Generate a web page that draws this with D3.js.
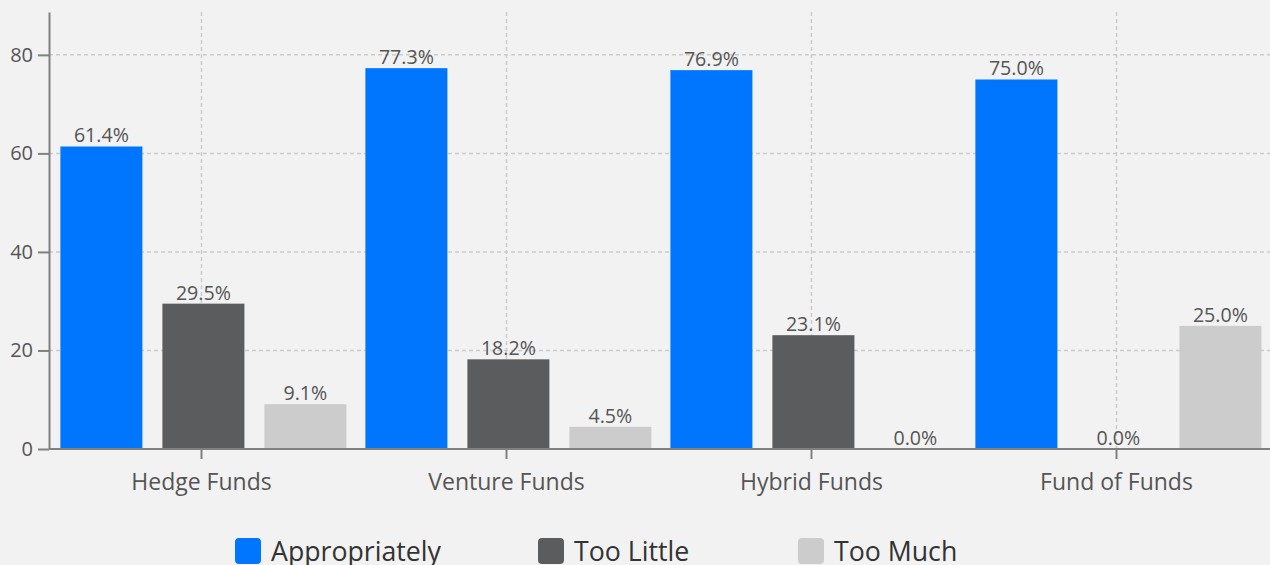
<!DOCTYPE html>
<html>
<head>
<meta charset="utf-8">
<script src="https://cdn.jsdelivr.net/npm/d3@7"></script>
<style>
  html, body { margin: 0; padding: 0; background: #f2f2f2; }
  svg { display: block; font-family: "Open Sans", sans-serif; }
</style>
</head>
<body>
<div id="container"></div>
<script>
var categories = ["Hedge Funds", "Venture Funds", "Hybrid Funds", "Fund of Funds"];
var seriesNames = ["Appropriately", "Too Little", "Too Much"];
var appropriately = [61.4, 77.3, 76.9, 75.0];
var tooLittle = [29.5, 18.2, 23.1, 0.0];
var tooMuch = [9.1, 4.5, 0.0, 25.0];
var yTicks = [0, 20, 40, 60, 80];
var colors = ["#0076ff", "#5b5c5e", "#cccccc"];

var width = 1270;
var height = 565;
var plotLeft = 49;
var plotRight = 1269;
var plotTop = 12;
var plotBottom = 449;

var seriesValues = [appropriately, tooLittle, tooMuch];
var rows = categories.map(function(c, i) {
  return { cat: c, vals: seriesNames.map(function(s, j) { return { key: s, idx: j, v: seriesValues[j][i] }; }) };
});

var x0 = d3.scaleBand().domain(categories).range([plotLeft, plotRight]).padding(0);
var x1 = d3.scaleBand().domain(seriesNames).range([0, x0.bandwidth()])
           .paddingInner(0.196).paddingOuter(0.093).align(0.6);
var y = d3.scaleLinear().domain([0, 88.7]).range([plotBottom, plotTop]);

var svg = d3.select("#container").append("svg")
            .attr("width", width)
            .attr("height", height);

// grid
svg.append("g").selectAll("line")
   .data(yTicks.filter(function(d) { return d > 0; }))
   .enter().append("line")
   .attr("x1", plotLeft).attr("x2", width)
   .attr("y1", function(d) { return y(d); })
   .attr("y2", function(d) { return y(d); })
   .attr("stroke", "#cccccc").attr("stroke-width", 1.5)
   .attr("stroke-dasharray", "4,3");

svg.append("g").selectAll("line")
   .data(categories)
   .enter().append("line")
   .attr("x1", function(d) { return x0(d) + x0.bandwidth() / 2; })
   .attr("x2", function(d) { return x0(d) + x0.bandwidth() / 2; })
   .attr("y1", plotTop).attr("y2", plotBottom)
   .attr("stroke", "#cccccc").attr("stroke-width", 1.5)
   .attr("stroke-dasharray", "4,3");

// bars
var groups = svg.append("g").selectAll("g")
   .data(rows)
   .enter().append("g")
   .attr("transform", function(d) { return "translate(" + x0(d.cat) + ",0)"; });

groups.selectAll("rect")
   .data(function(d) { return d.vals; })
   .enter().append("rect")
   .attr("x", function(d) { return x1(d.key); })
   .attr("y", function(d) { return y(d.v); })
   .attr("width", x1.bandwidth())
   .attr("height", function(d) { return plotBottom - y(d.v); })
   .attr("fill", function(d) { return colors[d.idx]; });

groups.selectAll("text")
   .data(function(d) { return d.vals; })
   .enter().append("text")
   .attr("x", function(d) { return x1(d.key) + x1.bandwidth() / 2; })
   .attr("y", function(d) { return y(d.v) - 4; })
   .attr("text-anchor", "middle")
   .style("font-size", "19.6px")
   .attr("fill", "#555")
   .text(function(d) { return d.v.toFixed(1) + "%"; });

// axes
var xAxis = d3.axisBottom(x0).tickSize(10).tickPadding(15).tickSizeOuter(0);
var yAxis = d3.axisLeft(y).tickValues(yTicks).tickSize(11).tickPadding(5).tickSizeOuter(0);

var gx = svg.append("g")
   .attr("transform", "translate(0," + plotBottom + ")")
   .call(xAxis);
gx.select(".domain").attr("d", "M" + plotLeft + ",0H" + width);

var gy = svg.append("g")
   .attr("transform", "translate(" + plotLeft + ",0)")
   .call(yAxis);

[gx, gy].forEach(function(g) {
  g.select(".domain").attr("stroke", "#808080").attr("stroke-width", 2);
  g.selectAll(".tick line").attr("stroke", "#808080").attr("stroke-width", 2);
  g.selectAll(".tick text").attr("fill", "#555").style("font-family", "Open Sans, sans-serif");
});
gx.selectAll(".tick text").style("font-size", "23px");
gy.selectAll(".tick text").style("font-size", "20px");

// legend
var legendX = [235, 538, 798];
var legend = svg.append("g").selectAll("g")
   .data(seriesNames)
   .enter().append("g")
   .attr("transform", function(d, i) { return "translate(" + legendX[i] + ",538)"; });

legend.append("rect")
   .attr("width", 26).attr("height", 26)
   .attr("rx", 4).attr("ry", 4)
   .attr("fill", function(d, i) { return colors[i]; });

legend.append("text")
   .attr("x", 36).attr("y", 23)
   .style("font-size", "26.7px")
   .attr("fill", "#333")
   .text(function(d) { return d; });
</script>
</body>
</html>
